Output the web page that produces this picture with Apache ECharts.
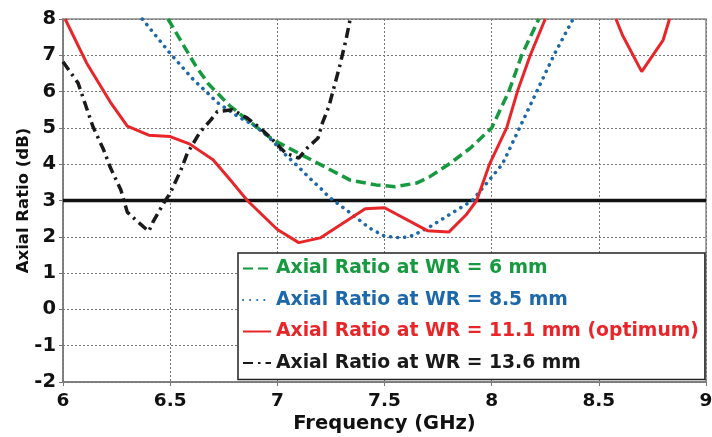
<!DOCTYPE html>
<html>
<head>
<meta charset="utf-8">
<script src="https://cdn.jsdelivr.net/npm/echarts@6/dist/echarts.min.js"></script>
<style>
html,body{margin:0;padding:0;background:#fff;}
#chart{width:712px;height:437px;}
</style>
</head>
<body>
<div id="chart"></div>
<script>
// Axial ratio at WR = 6 mm (green dashed)
const x6  = [6.49, 6.57, 6.62, 6.68, 6.78, 6.88, 6.97, 7.01, 7.10, 7.23, 7.34, 7.46, 7.55, 7.65, 7.71, 7.80, 7.90, 8.00, 8.08, 8.14, 8.22];
const y6  = [8.00, 7.20, 6.70, 6.20, 5.60, 5.13, 4.72, 4.58, 4.30, 3.90, 3.56, 3.43, 3.38, 3.48, 3.65, 4.00, 4.44, 5.00, 6.00, 7.00, 8.00];
// Axial ratio at WR = 8.5 mm (blue dotted)
const x85 = [6.37, 6.50, 6.61, 6.67, 6.72, 6.82, 6.89, 6.96, 7.04, 7.10, 7.15, 7.21, 7.24, 7.34, 7.43, 7.50, 7.58, 7.63, 7.71, 7.80, 7.91, 8.05, 8.13, 8.21, 8.29, 8.38];
const y85 = [8.00, 7.05, 6.32, 5.99, 5.70, 5.30, 5.08, 4.75, 4.25, 3.92, 3.62, 3.29, 3.10, 2.66, 2.24, 2.02, 1.97, 2.03, 2.27, 2.60, 3.00, 4.00, 5.00, 6.00, 7.00, 8.00];
// Axial ratio at WR = 11.1 mm (red solid, optimum)
const x111 = [6.01, 6.11, 6.22, 6.30, 6.40, 6.50, 6.59, 6.70, 6.79, 6.86, 6.93, 7.00, 7.10, 7.20, 7.41, 7.50, 7.70, 7.80, 7.88, 7.93, 7.99, 8.07, 8.12, 8.18, 8.25, 8.40, 8.58, 8.61, 8.70, 8.80, 8.83];
const y111 = [8.00, 6.79, 5.72, 5.05, 4.80, 4.76, 4.56, 4.12, 3.50, 3.00, 2.60, 2.20, 1.84, 1.97, 2.77, 2.80, 2.17, 2.13, 2.60, 3.00, 4.00, 5.00, 6.00, 7.00, 8.00, '-', 8.00, 7.56, 6.55, 7.42, 8.00];
// Axial ratio at WR = 13.6 mm (black dash-dot)
const x136 = [6.00, 6.07, 6.14, 6.19, 6.22, 6.27, 6.30, 6.34, 6.40, 6.42, 6.47, 6.50, 6.55, 6.58, 6.64, 6.69, 6.72, 6.79, 6.86, 6.92, 6.97, 7.04, 7.10, 7.14, 7.19, 7.21, 7.24, 7.29, 7.32, 7.34];
const y136 = [6.82, 6.24, 5.03, 4.39, 3.92, 3.29, 2.68, 2.46, 2.15, 2.41, 2.93, 3.20, 3.84, 4.30, 4.89, 5.22, 5.45, 5.50, 5.27, 5.00, 4.72, 4.30, 4.17, 4.45, 4.72, 5.13, 5.58, 6.68, 7.42, 8.00];
// 3 dB reference
const refX = [6, 9];
const refY = [3, 3];

const names = [
  'Axial Ratio at WR = 6 mm',
  'Axial Ratio at WR = 8.5 mm',
  'Axial Ratio at WR = 11.1 mm (optimum)',
  'Axial Ratio at WR = 13.6 mm'
];
const colors = ['#179a3f', '#1c68aa', '#e8262a', '#1a1a1a'];

function pairs(xs, ys) { return xs.map((x, i) => [x, ys[i]]); }

const FONT = '"DejaVu Sans", Verdana, sans-serif';
const chart = echarts.init(document.getElementById('chart'), null, {renderer: 'canvas'});

const option = {
  animation: false,
  backgroundColor: '#ffffff',
  grid: {left: 63, right: 6, top: 19, bottom: 55, containLabel: false, outerBoundsMode: 'none',
         show: true, borderColor: '#8a8a8a', borderWidth: 1.5, backgroundColor: 'transparent'},
  xAxis: {
    type: 'value', min: 6, max: 9, interval: 0.5,
    name: 'Frequency (GHz)', nameLocation: 'middle', nameGap: 32, nameMoveOverlap: false,
    nameTextStyle: {fontFamily: FONT, fontWeight: 'bold', fontSize: 19.5, color: '#111'},
    axisLine: {show: true, onZero: false, lineStyle: {color: '#777', width: 1.5}},
    axisTick: {show: true, length: 4, lineStyle: {color: '#777'}},
    axisLabel: {fontFamily: FONT, fontWeight: 'bold', fontSize: 18.5, color: '#111', margin: 10},
    splitLine: {show: true, lineStyle: {color: '#777', type: [2, 2], width: 1}}
  },
  yAxis: {
    type: 'value', min: -2, max: 8, interval: 1,
    name: 'Axial Ratio (dB)', nameLocation: 'middle', nameGap: 31, nameRotate: 90, nameMoveOverlap: false,
    nameTextStyle: {fontFamily: FONT, fontWeight: 'bold', fontSize: 16.5, color: '#111'},
    axisLine: {show: true, onZero: false, lineStyle: {color: '#777', width: 1.5}},
    axisTick: {show: true, length: 4, lineStyle: {color: '#777'}},
    axisLabel: {fontFamily: FONT, fontWeight: 'bold', fontSize: 19.5, color: '#111', margin: 7},
    splitLine: {show: true, lineStyle: {color: '#777', type: [2, 2], width: 1}}
  },
  legend: {
    orient: 'vertical', left: 238, top: 253,
    backgroundColor: '#ffffff', borderColor: '#222', borderWidth: 1.5,
    padding: [6, 6, 7, 4], itemGap: 12.5, itemWidth: 28, itemHeight: 14,
    textStyle: {fontFamily: FONT, fontWeight: 'bold', fontSize: 18.8},
    itemStyle: {opacity: 0},
    data: names.map((n, i) => ({name: n, textStyle: {color: colors[i]}}))
  },
  series: [
    {
      name: 'ref', type: 'line', data: pairs(refX, refY), symbol: 'none', z: 3,
      lineStyle: {color: '#111', width: 3.5}, silent: true
    },
    {
      name: names[0], type: 'line', data: pairs(x6, y6), symbol: 'none', z: 4,
      lineStyle: {color: colors[0], width: 3.5, type: [10, 5]}, itemStyle: {color: colors[0]}
    },
    {
      name: names[1], type: 'line', data: pairs(x85, y85), symbol: 'none', z: 4,
      lineStyle: {color: colors[1], width: 3.6, type: [0.1, 7], cap: 'round'}, itemStyle: {color: colors[1]}
    },
    {
      name: names[2], type: 'line', data: pairs(x111, y111), symbol: 'none', z: 5, connectNulls: false,
      lineStyle: {color: colors[2], width: 3}, itemStyle: {color: colors[2]}
    },
    {
      name: names[3], type: 'line', data: pairs(x136, y136), symbol: 'none', z: 4,
      lineStyle: {color: colors[3], width: 3.5, type: [10, 5, 2.5, 5]}, itemStyle: {color: colors[3]}
    }
  ]
};
chart.setOption(option);
</script>
</body>
</html>
